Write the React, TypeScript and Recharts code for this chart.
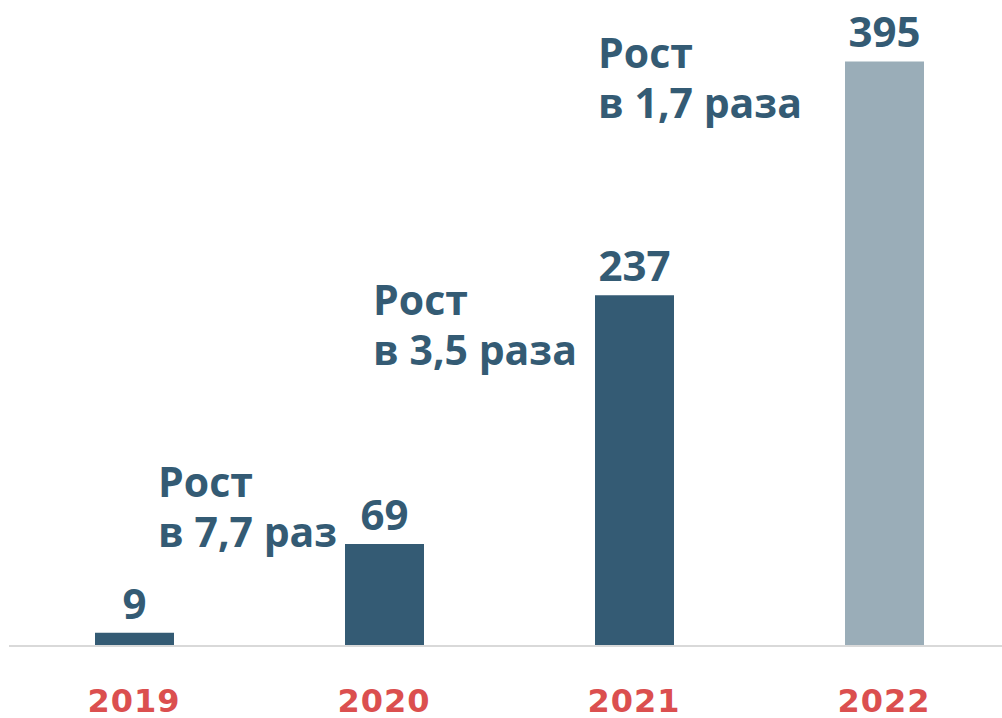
import { BarChart, Bar, XAxis, YAxis, LabelList, Cell } from 'recharts'

const years = ['2019', '2020', '2021', '2022']
const counts = [9, 69, 237, 395]
const growthTop = ['', 'Рост', 'Рост', 'Рост']
const growthBottom = ['', 'в 7,7 раз', 'в 3,5 раза', 'в 1,7 раза']

const data = years.map((year, i) => ({
  year,
  value: counts[i],
  note: growthBottom[i],
}))

const DARK = '#345B74'
const LIGHT = '#9AADB8'
const RED = '#DB4F4F'
const FONT = '"Open Sans", sans-serif'

// where each growth note sits, relative to the top-left corner of its bar
const notePos = [null, { dx: -187, dy: -47 }, { dx: -222, dy: 20 }, { dx: -247, dy: 7 }]

function YearTick({ x, y, payload }: any) {
  return (
    <text
      x={x}
      y={y}
      dy={66}
      textAnchor="middle"
      fill={RED}
      fontSize={32}
      fontWeight={700}
      fontFamily='"DejaVu Sans", sans-serif'
      letterSpacing={1}
    >
      {payload.value}
    </text>
  )
}

function GrowthNote(props: any) {
  const { x, y, index } = props
  const pos = notePos[index]
  if (!pos || !growthTop[index]) return null
  const tx = Number(x) + pos.dx
  const ty = Number(y) + pos.dy
  const style = { fill: DARK, fontSize: 41, fontWeight: 700, fontFamily: FONT }
  return (
    <g>
      <text x={tx} y={ty} style={style}>{growthTop[index]}</text>
      <text x={tx} y={ty + 50} style={style}>{growthBottom[index]}</text>
    </g>
  )
}

export default function App() {
  return (
    <div style={{ position: 'absolute', left: 0, top: 0, width: 1002, height: 718, overflow: 'hidden' }}>
      <BarChart
        width={1010}
        height={718}
        data={data}
        margin={{ top: 54, right: 1, left: 9, bottom: 0 }}
        barCategoryGap={0}
      >
        <XAxis
          dataKey="year"
          axisLine={{ stroke: '#D9D9D9', strokeWidth: 2 }}
          tickLine={false}
          tickSize={0}
          tickMargin={0}
          height={72}
          interval={0}
          tick={<YearTick />}
        />
        <YAxis hide domain={[0, 400]} />
        <Bar dataKey="value" barSize={79} isAnimationActive={false}>
          {data.map((d, i) => (
            <Cell key={d.year} fill={i === data.length - 1 ? LIGHT : DARK} />
          ))}
          <LabelList
            dataKey="value"
            position="top"
            offset={14}
            fill={DARK}
            fontSize={42}
            fontWeight={700}
            fontFamily={FONT}
          />
          <LabelList dataKey="note" content={<GrowthNote />} />
        </Bar>
      </BarChart>
    </div>
  )
}
